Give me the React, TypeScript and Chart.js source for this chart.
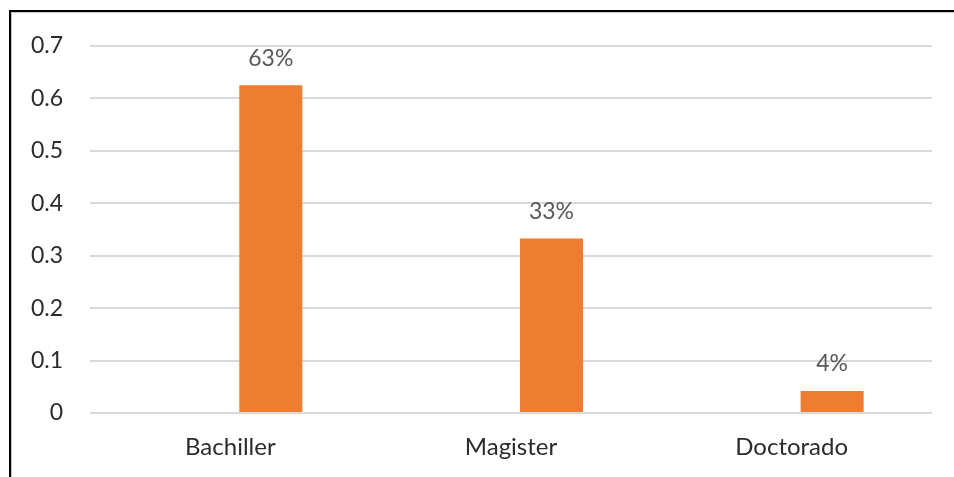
import React, { useEffect, useRef } from "react";
import { Chart, registerables } from "chart.js";

Chart.register(...registerables);

const categories = ["Bachiller", "Magister", "Doctorado"];
const values = [0.625, 0.333, 0.042];
const valueLabels = ["63%", "33%", "4%"];
const emptySeries = [null, null, null];
const yTicks = [0, 0.1, 0.2, 0.3, 0.4, 0.5, 0.6, 0.7];

const FONT = "Lato";

const dataLabelPlugin = {
  id: "dataLabels",
  afterDatasetsDraw(chart: any) {
    const ctx = chart.ctx;
    const meta = chart.getDatasetMeta(1);
    ctx.save();
    ctx.font = `23px ${FONT}`;
    ctx.fillStyle = "#595959";
    ctx.textAlign = "center";
    ctx.textBaseline = "middle";
    meta.data.forEach((bar: any, i: number) => {
      ctx.fillText(valueLabels[i], bar.x, bar.y - 27);
    });
    ctx.restore();
  },
};

export default function App() {
  const ref = useRef<HTMLCanvasElement>(null);
  useEffect(() => {
    if (!ref.current) return;
    const chart = new Chart(ref.current, {
      type: "bar",
      data: {
        labels: categories,
        datasets: [
          { label: "", data: emptySeries as any, backgroundColor: "rgba(0,0,0,0)" },
          { label: "Porcentaje", data: values, backgroundColor: "#ED7D31" },
        ],
      },
      options: {
        responsive: false,
        animation: false,
        categoryPercentage: 0.577,
        barPercentage: 0.778,
        layout: { padding: { top: 46, right: 22, left: 0, bottom: 0 } },
        plugins: { legend: { display: false }, tooltip: { enabled: false } },
        scales: {
          x: {
            grid: { display: false, drawTicks: false },
            border: { display: false },
            ticks: { color: "#2b2b2b", font: { family: FONT, size: 24 }, padding: 20 },
            afterFit(s: any) {
              s.height = 64;
            },
          },
          y: {
            min: 0,
            max: 0.7,
            afterBuildTicks(s: any) {
              s.ticks = yTicks.map((v) => ({ value: v }));
            },
            grid: { color: "#d9d9d9", lineWidth: 2, drawTicks: false },
            border: { display: false },
            ticks: {
              color: "#2b2b2b",
              font: { family: FONT, size: 23 },
              padding: 27,
              callback: (v: any) => String(Math.round(Number(v) * 10) / 10),
            },
            afterFit(s: any) {
              s.width = 90;
            },
          },
        },
      },
      plugins: [dataLabelPlugin],
    });
    return () => chart.destroy();
  }, []);

  return (
    <div style={{ position: "fixed", left: 0, top: 0, width: 954, height: 477, overflow: "hidden", background: "#fff" }}>
      <div
        style={{
          position: "absolute",
          left: 9,
          top: 10,
          width: 1200,
          height: 1200,
          borderLeft: "2px solid #000",
          borderTop: "2px solid #000",
          boxShadow: "inset 1px 1px 0 #c8c8c8",
        }}
      />
      <canvas ref={ref} width={954} height={477} style={{ position: "absolute", left: 0, top: 0, width: 954, height: 477 }} />
    </div>
  );
}
